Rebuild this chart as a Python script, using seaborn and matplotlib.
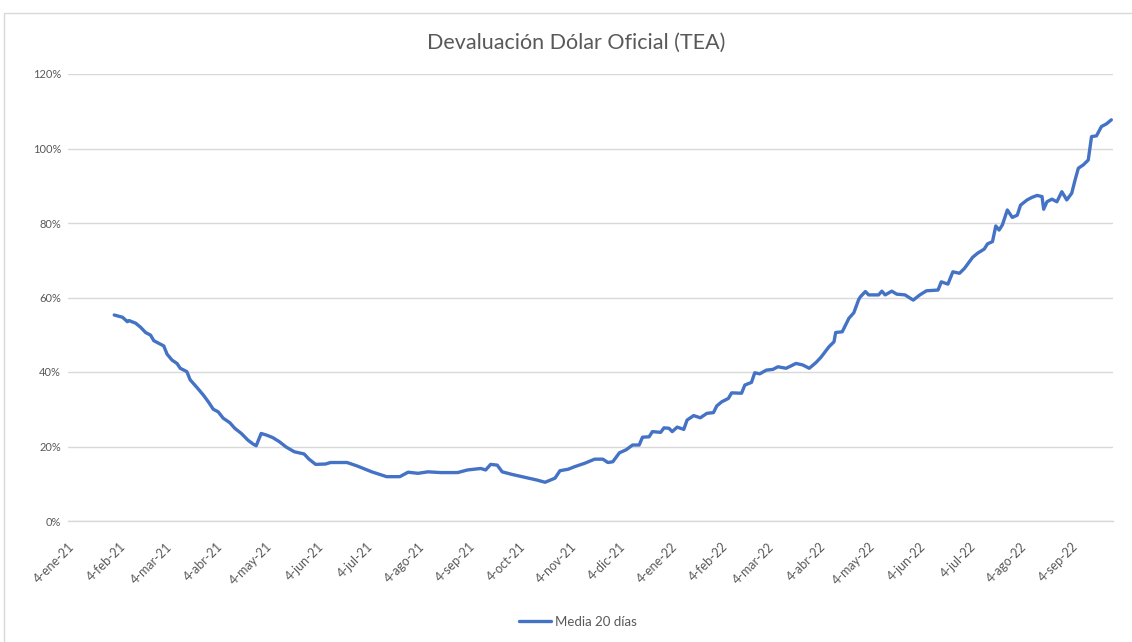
import matplotlib
matplotlib.use("Agg")
import matplotlib.pyplot as plt
import matplotlib.patches as mpatches
import seaborn as sns
import pandas as pd

# ---- data ----
dates = [
    "2021-02-01", "2021-02-06", "2021-02-09", "2021-02-10", "2021-02-14", "2021-02-17", "2021-02-20",
    "2021-02-23", "2021-02-25", "2021-02-28", "2021-03-03", "2021-03-05", "2021-03-08", "2021-03-11",
    "2021-03-13", "2021-03-17", "2021-03-19", "2021-03-23", "2021-03-27", "2021-03-30", "2021-04-02",
    "2021-04-05", "2021-04-08", "2021-04-12", "2021-04-15", "2021-04-19", "2021-04-23", "2021-04-26",
    "2021-04-28", "2021-05-01", "2021-05-04", "2021-05-08", "2021-05-12", "2021-05-16", "2021-05-21",
    "2021-05-27", "2021-05-30", "2021-06-03", "2021-06-09", "2021-06-12", "2021-06-16", "2021-06-22",
    "2021-06-28", "2021-07-07", "2021-07-16", "2021-07-24", "2021-07-29", "2021-08-04", "2021-08-10",
    "2021-08-18", "2021-08-28", "2021-09-03", "2021-09-11", "2021-09-14", "2021-09-17", "2021-09-21",
    "2021-09-24", "2021-09-30", "2021-10-08", "2021-10-15", "2021-10-20", "2021-10-26", "2021-10-29",
    "2021-11-03", "2021-11-07", "2021-11-13", "2021-11-19", "2021-11-24", "2021-11-27", "2021-11-30",
    "2021-12-04", "2021-12-08", "2021-12-12", "2021-12-16", "2021-12-18", "2021-12-22", "2021-12-24",
    "2021-12-29", "2021-12-31", "2022-01-03", "2022-01-05", "2022-01-08", "2022-01-12", "2022-01-14",
    "2022-01-18", "2022-01-22", "2022-01-26", "2022-01-30", "2022-02-01", "2022-02-04", "2022-02-08",
    "2022-02-10", "2022-02-16", "2022-02-18", "2022-02-22", "2022-02-24", "2022-02-27", "2022-03-03",
    "2022-03-07", "2022-03-10", "2022-03-15", "2022-03-21", "2022-03-25", "2022-03-29", "2022-04-02",
    "2022-04-05", "2022-04-10", "2022-04-13", "2022-04-14", "2022-04-18", "2022-04-22", "2022-04-25",
    "2022-04-28", "2022-04-29", "2022-05-02", "2022-05-04", "2022-05-10", "2022-05-12", "2022-05-14",
    "2022-05-18", "2022-05-21", "2022-05-26", "2022-05-31", "2022-06-04", "2022-06-08", "2022-06-15",
    "2022-06-17", "2022-06-21", "2022-06-24", "2022-06-28", "2022-07-01", "2022-07-06", "2022-07-09",
    "2022-07-13", "2022-07-15", "2022-07-18", "2022-07-20", "2022-07-22", "2022-07-24", "2022-07-27",
    "2022-07-30", "2022-08-02", "2022-08-04", "2022-08-08", "2022-08-11", "2022-08-14", "2022-08-17",
    "2022-08-18", "2022-08-20", "2022-08-23", "2022-08-26", "2022-08-29", "2022-09-01", "2022-09-04",
    "2022-09-06", "2022-09-08", "2022-09-11", "2022-09-14", "2022-09-16", "2022-09-19", "2022-09-22",
    "2022-09-25", "2022-09-28",
]
media_20 = [
    55.3, 54.7, 53.5, 53.8, 53.1, 52.0, 50.6,
    49.9, 48.4, 47.7, 47.0, 44.8, 43.2, 42.3,
    41.0, 40.1, 37.9, 35.9, 33.8, 32.0, 30.0,
    29.3, 27.6, 26.4, 24.9, 23.5, 21.7, 20.7,
    20.2, 23.5, 23.1, 22.4, 21.3, 19.9, 18.6,
    18.0, 16.6, 15.2, 15.3, 15.7, 15.7, 15.7,
    14.8, 13.2, 11.9, 11.9, 13.1, 12.8, 13.2,
    13.0, 13.0, 13.7, 14.1, 13.7, 15.2, 15.0,
    13.2, 12.5, 11.7, 11.0, 10.4, 11.5, 13.5,
    13.9, 14.6, 15.5, 16.6, 16.6, 15.7, 15.9,
    18.3, 19.1, 20.4, 20.4, 22.5, 22.6, 24.0,
    23.8, 25.0, 24.9, 24.0, 25.2, 24.6, 27.1,
    28.3, 27.7, 28.9, 29.1, 30.9, 32.0, 32.9,
    34.4, 34.3, 36.5, 37.2, 39.8, 39.5, 40.5,
    40.7, 41.4, 41.0, 42.3, 41.9, 41.0, 42.5,
    43.9, 46.8, 48.1, 50.6, 50.8, 54.4, 55.9,
    59.5, 60.2, 61.6, 60.7, 60.7, 61.7, 60.7,
    61.7, 60.9, 60.7, 59.3, 60.7, 61.8, 62.0,
    64.2, 63.6, 66.9, 66.5, 67.8, 70.8, 71.9,
    73.0, 74.4, 75.0, 79.2, 78.1, 79.5, 83.5,
    81.5, 82.1, 84.8, 86.2, 86.9, 87.4, 87.1,
    83.7, 85.7, 86.4, 85.7, 88.4, 86.2, 88.0,
    91.5, 94.7, 95.6, 96.9, 103.2, 103.4, 105.9,
    106.6, 107.7,
]
series_name = "Media 20 días"
title = "Devaluación Dólar Oficial (TEA)"

tick_dates = [
    "2021-01-04", "2021-02-04", "2021-03-04", "2021-04-04", "2021-05-04", "2021-06-04",
    "2021-07-04", "2021-08-04", "2021-09-04", "2021-10-04", "2021-11-04", "2021-12-04",
    "2022-01-04", "2022-02-04", "2022-03-04", "2022-04-04", "2022-05-04", "2022-06-04",
    "2022-07-04", "2022-08-04", "2022-09-04",
]
tick_labels = [
    "4-ene-21", "4-feb-21", "4-mar-21", "4-abr-21", "4-may-21", "4-jun-21",
    "4-jul-21", "4-ago-21", "4-sep-21", "4-oct-21", "4-nov-21", "4-dic-21",
    "4-ene-22", "4-feb-22", "4-mar-22", "4-abr-22", "4-may-22", "4-jun-22",
    "4-jul-22", "4-ago-22", "4-sep-22",
]
y_ticks = [0, 20, 40, 60, 80, 100, 120]
x_start, x_end = "2021-01-04", "2022-09-29"

# ---- style ----
sns.set_style("white")
plt.rcParams["font.family"] = ["Lato", "DejaVu Sans"]
GRAY_TXT = "#595959"
GRID = "#d9d9d9"
BLUE = "#4472C4"

df = pd.DataFrame({"fecha": pd.to_datetime(dates), "valor": media_20, "serie": series_name})

fig = plt.figure(figsize=(11.32, 6.42), dpi=100)
# chart border like Excel chart area
fig.patches.append(mpatches.Rectangle((4 / 1132, -0.05), 1.2, 1 - 13 / 642 + 0.05,
                                      transform=fig.transFigure, fill=False,
                                      edgecolor=GRID, linewidth=1.0, zorder=0))
ax = fig.add_axes([68 / 1132, 1 - 521 / 642, (1113 - 68) / 1132, (521 - 74) / 642])

sns.lineplot(data=df, x="fecha", y="valor", hue="serie", palette=[BLUE],
             linewidth=2.4, ax=ax, legend=False)

ax.set_xlim(pd.Timestamp(x_start), pd.Timestamp(x_end))
ax.set_ylim(0, 120)
ax.set_yticks(y_ticks)
ax.set_yticklabels([f"{v}%" for v in y_ticks])
ax.set_xticks(pd.to_datetime(tick_dates))
ax.set_xticklabels(tick_labels, rotation=45, ha="right", rotation_mode="anchor")
ax.set_xlabel("")
ax.set_ylabel("")

ax.grid(axis="y", color=GRID, linewidth=1.0)
ax.grid(axis="x", visible=False)
ax.set_axisbelow(True)
for s in ["left", "right", "top"]:
    ax.spines[s].set_visible(False)
ax.spines["bottom"].set_color(GRID)
ax.spines["bottom"].set_linewidth(1.0)
ax.tick_params(axis="x", colors=GRAY_TXT, labelsize=9, length=5, width=1.0,
               direction="out", pad=9)
ax.tick_params(axis="x", which="major", color=GRID)
ax.tick_params(axis="y", colors=GRAY_TXT, labelsize=8, length=0, pad=5)

fig.text(576 / 1132, 1 - 43 / 642, title, ha="center", va="center",
         fontsize=15.5, color=GRAY_TXT)

# legend at bottom
handle = plt.Line2D([], [], color=BLUE, linewidth=2.4)
fig.legend([handle], [series_name], loc="center", bbox_to_anchor=(578 / 1132, 1 - 622 / 642),
           frameon=False, fontsize=9.5, labelcolor=GRAY_TXT, handlelength=2.4,
           handletextpad=0.3)

fig.savefig("out.png", dpi=100)
